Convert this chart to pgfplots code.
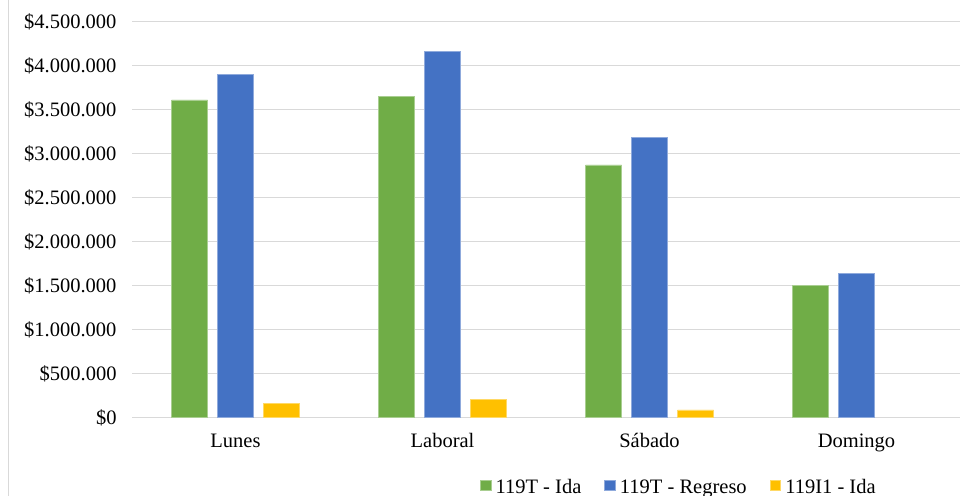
\documentclass[border=0pt]{standalone}
\usepackage{fontspec}
\setmainfont{Liberation Serif}
\usepackage{pgfplots}
\pgfplotsset{compat=1.18}

\definecolor{idaGreen}{HTML}{70AD47}
\definecolor{regresoBlue}{HTML}{4472C4}
\definecolor{idaYellow}{HTML}{FFC000}
\definecolor{gridGray}{HTML}{D9D9D9}

\begin{document}
\begin{tikzpicture}[font=\fontsize{20.5bp}{24bp}\selectfont]
\begin{axis}[
  at={(132bp,78.7bp)}, anchor=south west,
  scale only axis,
  width=828bp, height=395.6bp,
  xmin=-0.5, xmax=3.5,
  ymin=0, ymax=4500000,
  enlargelimits=false,
  ybar=10bp, bar width=36bp,
  xtick={0,1,2,3},
  xticklabels={Lunes, Laboral, Sábado, Domingo},
  ytick={0,500000,1000000,1500000,2000000,2500000,3000000,3500000,4000000,4500000},
  yticklabels={\$0, \$500.000, \$1.000.000, \$1.500.000, \$2.000.000, \$2.500.000, \$3.000.000, \$3.500.000, \$4.000.000, \$4.500.000},
  scaled y ticks=false,
  major tick length=0pt,
  tick style={draw=none},
  axis line style={draw=none},
  ymajorgrids,
  major grid style={color=gridGray, line width=1.3bp},
  yticklabel style={anchor=base east, inner sep=0pt, xshift=-15.3bp, yshift=-6.9bp},
  xticklabel style={anchor=base, inner sep=0pt, yshift=-30.4bp},
  legend columns=3,
  legend style={
    at={(0.4203,-0.1572)}, anchor=north west,
    draw=none, fill=none, inner sep=0pt, outer sep=0pt,
    nodes={inner sep=0pt, text height=14bp, text depth=0bp},
    /tikz/every odd column/.append style={column sep=4.4bp},
    /tikz/every even column/.append style={column sep=23bp},
  },
  legend cell align=left,
  legend image code/.code={\fill[#1] (0bp,-4.3bp) rectangle (10.6bp,6.3bp);},
]
\addplot[fill=idaGreen, draw=idaGreen!60!white, line width=0.6bp]
  coordinates {(0,3610000) (1,3650000) (2,2870000) (3,1500000)};
\addplot[fill=regresoBlue, draw=regresoBlue!60!white, line width=0.6bp]
  coordinates {(0,3905000) (1,4160000) (2,3180000) (3,1635000)};
\addplot[fill=idaYellow, draw=idaYellow!60!white, line width=0.6bp]
  coordinates {(0,160000) (1,200000) (2,85000)};
\legend{119T - Ida, 119T - Regreso, 119I1 - Ida}
\end{axis}
% chart frame edge on the left
\draw[color=gridGray, line width=1.3bp] (8.3bp,0bp) -- (8.3bp,496bp);
\pgfresetboundingbox
\useasboundingbox (0bp,0bp) rectangle (969bp,496bp);
\end{tikzpicture}
\end{document}
